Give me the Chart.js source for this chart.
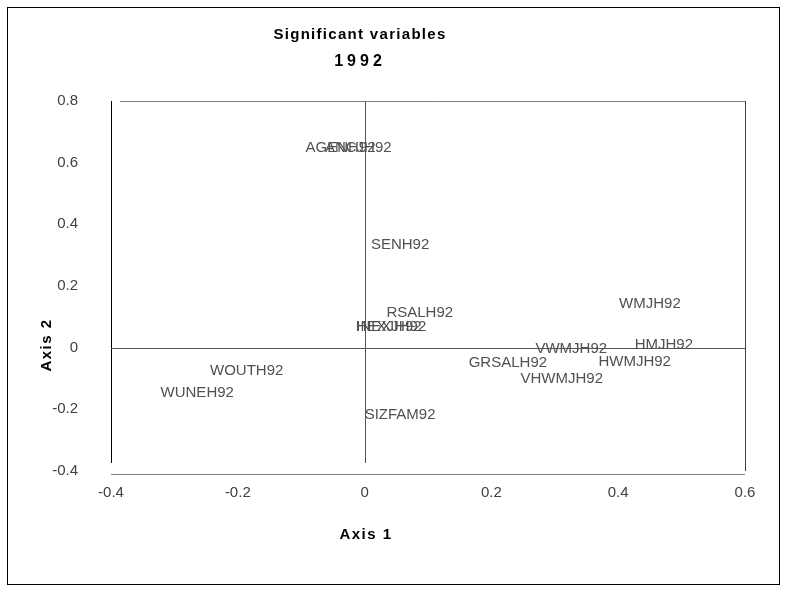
<!DOCTYPE html>
<html>
<head>
<meta charset="utf-8">
<script src="https://cdn.jsdelivr.net/npm/chart.js@4"></script>
<style>
  html, body { margin: 0; padding: 0; background: #fff; }
  #wrap { width: 787px; height: 592px; position: relative; }
</style>
</head>
<body>
<div id="wrap"><canvas id="c" width="787" height="592"></canvas></div>
<script>
// ---- data ----
const variables = ["AGENH92", "ANCJH92", "SENH92", "RSALH92", "INEXJH92", "HEXJH92",
                   "WMJH92", "HMJH92", "VWMJH92", "HWMJH92", "GRSALH92", "VHWMJH92",
                   "WOUTH92", "WUNEH92", "SIZFAM92"];
const axis1Values = [-0.038, -0.010, 0.056, 0.087, 0.042, 0.038,
                     0.450, 0.472, 0.326, 0.426, 0.226, 0.311,
                     -0.186, -0.264, 0.056];
const axis2Values = [0.648, 0.648, 0.333, 0.113, 0.067, 0.067,
                     0.142, 0.009, -0.004, -0.046, -0.049, -0.100,
                     -0.076, -0.147, -0.218];
const xTickValues = [-0.4, -0.2, 0, 0.2, 0.4, 0.6];
const yTickValues = [-0.4, -0.2, 0, 0.2, 0.4, 0.6, 0.8];
const titleLines = ["Significant variables", "1992"];
const xTitle = "Axis 1";
const yTitle = "Axis 2";

const FONT = "'Liberation Sans', Arial, sans-serif";

const points = variables.map((v, i) => ({ x: axis1Values[i], y: axis2Values[i], label: v }));

const decorPlugin = {
  id: 'decor',
  beforeDraw(chart) {
    const ctx = chart.ctx;
    ctx.save();
    ctx.fillStyle = '#fff';
    ctx.fillRect(0, 0, chart.width, chart.height);
    ctx.strokeStyle = '#000';
    ctx.lineWidth = 1;
    ctx.strokeRect(7.5, 7.5, 772, 577);
    ctx.restore();
  },
  afterDatasetsDraw(chart) {
    const ctx = chart.ctx;
    const a = chart.chartArea;
    const xs = chart.scales.x, ys = chart.scales.y;
    ctx.save();
    ctx.strokeStyle = '#808080';
    ctx.lineWidth = 1;
    ctx.beginPath();
    ctx.moveTo(a.left + 9, Math.round(a.top) + 0.5);
    ctx.lineTo(Math.round(a.right) + 0.5, Math.round(a.top) + 0.5);
    ctx.moveTo(a.left, Math.round(a.bottom) + 3.5);
    ctx.lineTo(a.right, Math.round(a.bottom) + 3.5);
    ctx.stroke();
    ctx.strokeStyle = '#404040';
    ctx.beginPath();
    ctx.moveTo(Math.round(a.right) + 0.5, a.top);
    ctx.lineTo(Math.round(a.right) + 0.5, a.bottom);
    ctx.stroke();
    ctx.strokeStyle = '#000';
    ctx.beginPath();
    ctx.moveTo(Math.round(a.left) + 0.5, a.top);
    ctx.lineTo(Math.round(a.left) + 0.5, a.bottom - 8);
    ctx.stroke();
    const x0 = Math.round(xs.getPixelForValue(0)) + 0.5;
    const y0 = Math.round(ys.getPixelForValue(0)) + 0.5;
    ctx.strokeStyle = '#555';
    ctx.beginPath();
    ctx.moveTo(a.left, y0); ctx.lineTo(a.right, y0);
    ctx.moveTo(x0, a.top); ctx.lineTo(x0, a.bottom - 8);
    ctx.stroke();
    // data labels
    ctx.font = '15px ' + FONT;
    ctx.fillStyle = '#505050';
    ctx.textAlign = 'center';
    ctx.textBaseline = 'middle';
    const meta = chart.getDatasetMeta(0);
    meta.data.forEach((el, i) => {
      ctx.fillText(points[i].label, el.x, el.y);
    });
    // titles
    ctx.fillStyle = '#000';
    ctx.font = 'bold 15px ' + FONT;
    ctx.letterSpacing = '1.3px';
    ctx.fillText(titleLines[0], 360, 35);
    ctx.font = 'bold 16px ' + FONT;
    ctx.letterSpacing = '4px';
    ctx.fillText(titleLines[1], 360, 62);
    ctx.font = 'bold 15px ' + FONT;
    ctx.letterSpacing = '1.5px';
    ctx.fillText(xTitle, 366, 535);
    ctx.translate(47, 345);
    ctx.rotate(-Math.PI / 2);
    ctx.fillText(yTitle, 0, 0);
    ctx.restore();
  }
};

new Chart(document.getElementById('c'), {
  type: 'scatter',
  data: {
    datasets: [{
      data: points,
      pointRadius: 0,
      pointHoverRadius: 0,
      showLine: false
    }]
  },
  options: {
    responsive: false,
    animation: false,
    events: [],
    layout: { padding: { left: 0, top: 101, right: 42, bottom: 0 } },
    plugins: { legend: { display: false }, tooltip: { enabled: false }, title: { display: false } },
    scales: {
      x: {
        type: 'linear',
        min: -0.4, max: 0.6,
        afterBuildTicks(s) { s.ticks = xTickValues.map(v => ({ value: v })); },
        afterFit(s) { s.height = 592 - 471; },
        grid: { display: false, drawTicks: false },
        border: { display: false },
        ticks: {
          padding: 13,
          color: '#404040',
          font: { family: FONT, size: 15 },
          maxRotation: 0,
          callback: v => String(Math.round(v * 10) / 10)
        }
      },
      y: {
        type: 'linear',
        min: -0.4, max: 0.8,
        afterBuildTicks(s) { s.ticks = yTickValues.map(v => ({ value: v })); },
        afterFit(s) { s.width = 111; },
        grid: { display: false, drawTicks: false },
        border: { display: false },
        ticks: {
          padding: 33,
          color: '#404040',
          font: { family: FONT, size: 15 },
          callback: v => String(Math.round(v * 10) / 10)
        }
      }
    }
  },
  plugins: [decorPlugin]
});
</script>
</body>
</html>
